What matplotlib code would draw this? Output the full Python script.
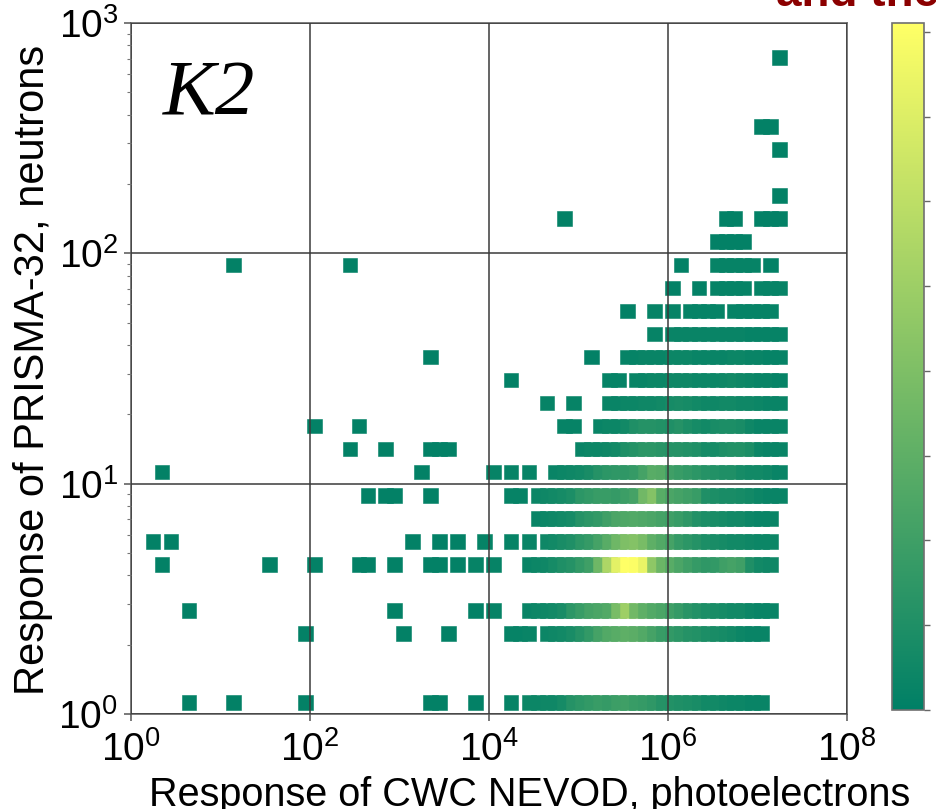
import numpy as np
import matplotlib
matplotlib.use("Agg")
import matplotlib.pyplot as plt
from matplotlib.ticker import FixedLocator, NullLocator, MultipleLocator, LogLocator

plt.rcParams['font.family'] = ['Liberation Sans', 'DejaVu Sans']
plt.rcParams['mathtext.fontset'] = 'custom'
plt.rcParams['mathtext.rm'] = 'Liberation Sans'
plt.rcParams['mathtext.it'] = 'Liberation Sans:italic'
plt.rcParams['mathtext.bf'] = 'Liberation Sans:bold'

# histogram bins: 0.1 decade wide in both directions
x_edges = np.logspace(0, 8, 81)
y_edges = np.logspace(0, 3, 31)

# ---- data: for each neutron bin (y index) the photoelectron bins (x index) and counts
row00_x = [6, 11, 19, 33, 34, 38, 42] + list(range(44, 71))
row00_n = [1, 1, 1, 1, 1, 1, 2,
           4, 4, 5, 5, 7, 12, 14, 16, 18, 17, 19, 20, 18, 17, 15, 12, 11, 10, 9, 8, 6, 6, 5, 4, 4, 3, 3]
row03_x = [19, 30, 35, 42, 43, 44] + list(range(46, 71))
row03_n = [1, 1, 1, 2, 2, 3,
           4, 5, 6, 8, 12, 16, 22, 26, 28, 30, 29, 26, 22, 18, 16, 14, 12, 11, 9, 8, 7, 6, 4, 3, 3]
row04_x = [6, 29, 38, 40] + list(range(44, 72))
row04_n = [1, 1, 1, 2,
           3, 4, 5, 6, 8, 14, 18, 22, 24, 26, 38, 50, 36, 30, 26, 24, 20, 17, 13, 11, 9, 8, 7, 6, 6, 4, 3, 3]
row06_x = [3, 15, 20, 25, 26, 29, 33, 34, 36, 38, 40] + list(range(44, 72))
row06_n = [1, 1, 1, 1, 1, 1, 1, 1, 1, 2, 2,
           3, 4, 5, 7, 10, 12, 16, 20, 35, 55, 72, 81, 80, 74, 45, 34, 28, 24, 20, 17, 15, 16, 20, 22, 20, 10, 6, 5]
row07_x = [2, 4, 31, 34, 36, 39, 42, 44] + list(range(46, 72))
row07_n = [1, 1, 1, 1, 1, 2, 2, 3,
           5, 6, 8, 10, 14, 17, 22, 28, 35, 40, 42, 38, 30, 26, 22, 17, 14, 12, 9, 8, 7, 6, 6, 5, 4, 4]
row08_x = list(range(45, 72))
row08_n = [3, 4, 5, 6, 7, 12, 14, 16, 20, 24, 25, 26, 25, 24, 22, 20, 18, 15, 11, 9, 8, 7, 6, 6, 4, 3, 3]
row09_x = [26, 28, 29, 33, 42, 43] + list(range(45, 73))
row09_n = [1, 1, 1, 1, 2, 2,
           4, 5, 6, 7, 9, 14, 16, 18, 18, 17, 19, 22, 36, 42, 28, 24, 22, 20, 18, 10, 9, 8, 8, 7, 6, 4, 3, 3]
row10_x = [3, 32, 40, 42, 44] + list(range(47, 73))
row10_n = [1, 1, 2, 2, 2,
           3, 4, 5, 6, 8, 12, 14, 15, 15, 17, 22, 28, 27, 20, 18, 16, 14, 12, 11, 10, 10, 7, 6, 6, 5, 3]
row11_x = [24, 28, 33, 34, 35] + list(range(50, 73))
row11_n = [1, 1, 1, 1, 1,
           3, 4, 4, 5, 6, 10, 12, 14, 14, 13, 12, 12, 11, 10, 7, 7, 10, 11, 11, 9, 4, 3, 3]
row12_x = [20, 25, 48, 49] + list(range(52, 73))
row12_n = [1, 1, 2, 2,
           3, 4, 4, 6, 10, 12, 12, 11, 10, 12, 9, 7, 6, 8, 9, 9, 8, 5, 3, 3, 3]
row13_x = [46, 49] + list(range(53, 73))
row13_n = [2, 2, 3, 3, 4, 4, 5, 5, 6, 7, 8, 7, 6, 5, 5, 6, 6, 5, 5, 4, 3, 3]
row14_x = [42, 53, 54] + list(range(56, 73))
row14_n = [1, 2, 2, 3, 3, 4, 4, 5, 5, 5, 4, 4, 4, 5, 6, 5, 4, 3, 3, 2]
row15_x = [33, 51] + list(range(55, 73))
row15_n = [1, 1, 2, 2, 3, 3, 3, 4, 4, 4, 3, 3, 3, 3, 4, 4, 3, 3, 2, 2]
row16_x = [58] + list(range(60, 73))
row16_n = [2, 3, 3, 3, 3, 3, 3, 3, 3, 3, 2, 2, 2, 2]
row17_x = [55, 58, 60, 62, 63, 64, 65, 67, 68, 69, 70, 71]
row17_n = [1, 2, 2, 2, 2, 2, 2, 2, 2, 2, 2, 2]
row18_x = [60, 63, 65, 66, 67, 68, 70, 71, 72]
row18_n = [1, 1, 2, 2, 2, 2, 2, 2, 2]
row19_x = [11, 24, 61, 65, 66, 67, 68, 69, 71]
row19_n = [1, 1, 1, 2, 2, 2, 2, 2, 1]
row20_x = [65, 66, 67, 68]
row20_n = [1, 1, 1, 1]
row21_x = [48, 66, 67, 70, 71, 72]
row21_n = [1, 1, 1, 1, 1, 1]
row22_x = [72]
row22_n = [1]
row24_x = [72]
row24_n = [1]
row25_x = [70, 71]
row25_n = [1, 1]
row28_x = [72]
row28_n = [1]

rows = [(0, row00_x, row00_n), (3, row03_x, row03_n), (4, row04_x, row04_n),
        (6, row06_x, row06_n), (7, row07_x, row07_n), (8, row08_x, row08_n),
        (9, row09_x, row09_n), (10, row10_x, row10_n), (11, row11_x, row11_n),
        (12, row12_x, row12_n), (13, row13_x, row13_n), (14, row14_x, row14_n),
        (15, row15_x, row15_n), (16, row16_x, row16_n), (17, row17_x, row17_n),
        (18, row18_x, row18_n), (19, row19_x, row19_n), (20, row20_x, row20_n),
        (21, row21_x, row21_n), (22, row22_x, row22_n), (24, row24_x, row24_n),
        (25, row25_x, row25_n), (28, row28_x, row28_n)]

x_centers = np.sqrt(x_edges[:-1] * x_edges[1:])
y_centers = np.sqrt(y_edges[:-1] * y_edges[1:])
xs, ys, cs = [], [], []
for j, ks, ns in rows:
    assert len(ks) == len(ns)
    for k, n in zip(ks, ns):
        xs.append(x_centers[k]); ys.append(y_centers[j]); cs.append(n)

W, H = 936, 809
fig = plt.figure(figsize=(W / 100, H / 100), dpi=100)
ax = fig.add_axes([130.7 / W, 1 - 714 / H, 716 / W, 691 / H])
sc = ax.scatter(xs, ys, c=cs, cmap='summer', vmin=0, vmax=81, marker='s',
                s=112, linewidths=0.4, edgecolors='face', zorder=1)
ax.set_xscale('log'); ax.set_yscale('log')
ax.set_xlim(1, 1e8); ax.set_ylim(1, 1e3)
ax.xaxis.set_major_locator(FixedLocator([1e0, 1e2, 1e4, 1e6, 1e8]))
ax.xaxis.set_minor_locator(NullLocator())
ax.yaxis.set_major_locator(FixedLocator([1e0, 1e1, 1e2, 1e3]))
ax.yaxis.set_minor_locator(LogLocator(base=10, subs=np.arange(2, 10)))
ax.set_axisbelow(False)
ax.grid(True, which='major', color='#3a3a3a', lw=1.1)
for sp in ax.spines.values():
    sp.set_color('#707070'); sp.set_linewidth(1.3)
ax.tick_params(which='major', length=5, width=1.1, color='#555555', labelsize=28, pad=4)
ax.tick_params(axis='x', which='major', pad=7)
ax.tick_params(which='minor', length=3, width=0.8, color='#777777')

ax.set_xlabel('Response of CWC NEVOD, photoelectrons', fontsize=28.5)
ax.xaxis.label.set_va('baseline')
ax.xaxis.set_label_coords(530 / W, 1 - 806 / H, transform=fig.transFigure)
ax.set_ylabel('Response of PRISMA-32, neutrons', fontsize=30)
ax.yaxis.label.set_va('center')
ax.yaxis.set_label_coords(33 / W, 1 - 370 / H, transform=fig.transFigure)

ax.text(0.045, 0.867, 'K2', transform=ax.transAxes, fontsize=57,
        family='Liberation Serif', style='italic', ha='left', va='baseline')

cax = fig.add_axes([891.7 / W, 1 - 710 / H, 32.6 / W, 686.7 / H])
cb = fig.colorbar(sc, cax=cax)
cb.locator = MultipleLocator(10); cb.update_ticks()
cax.tick_params(length=4, width=1, color='#666666', labelright=False)
cb.outline.set_edgecolor('#707070'); cb.outline.set_linewidth(1.2)

fig.text(776 / W, 1 - 6 / H, 'and the', color='#8b0000', fontsize=33,
         fontweight='bold', ha='left', va='baseline')

fig.savefig('out.png', dpi=100)
